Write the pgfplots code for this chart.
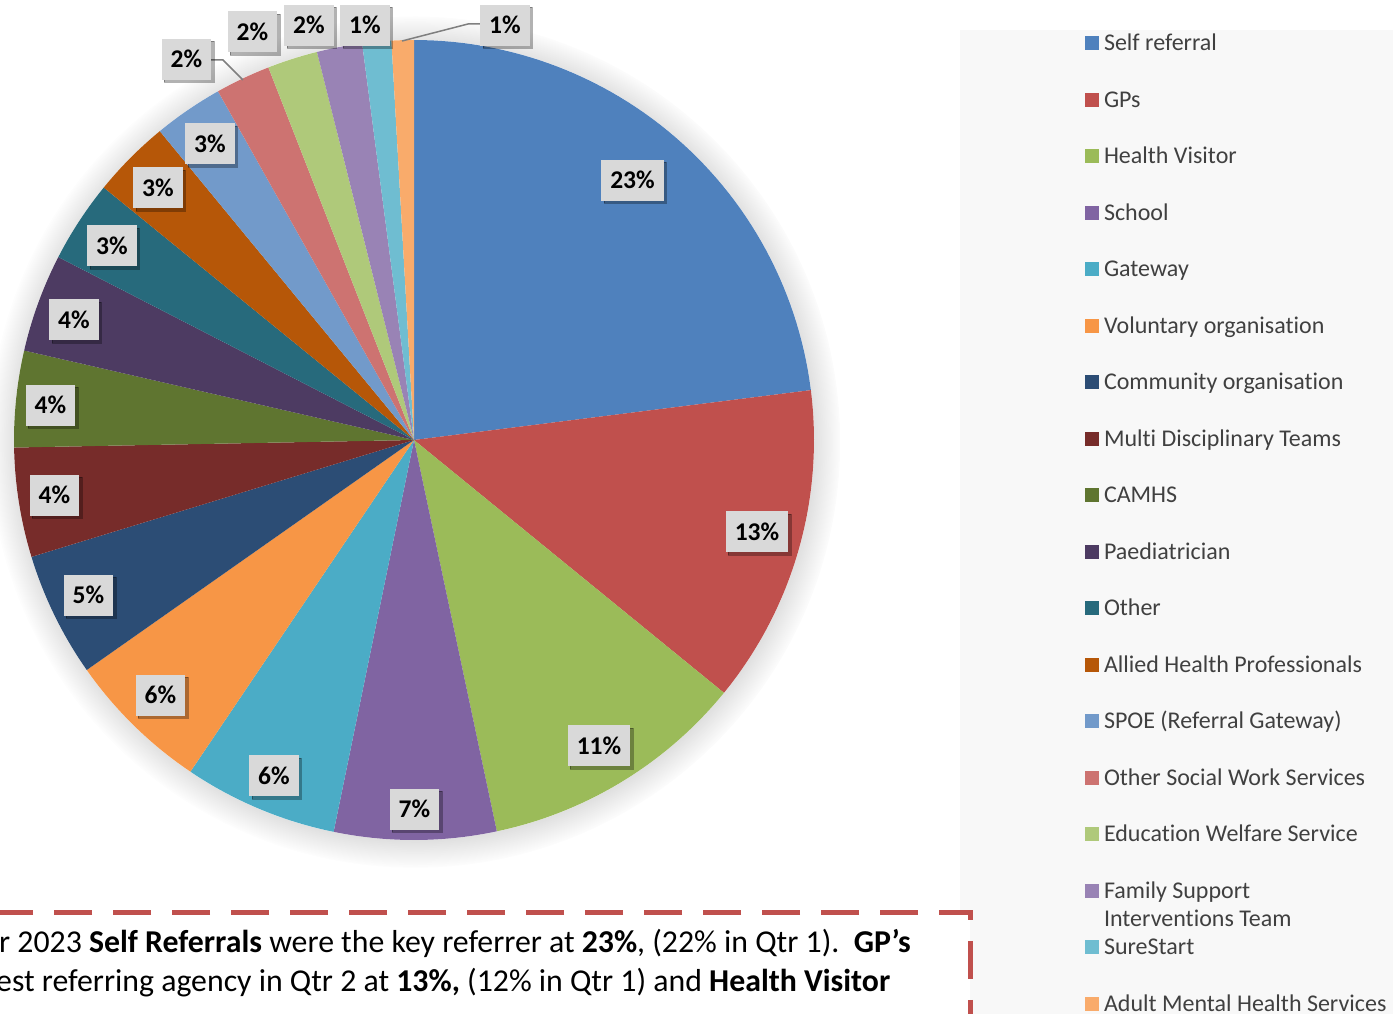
\documentclass[border=0pt]{standalone}
\usepackage{fontspec}
\setmainfont[Ligatures=NoCommon]{Carlito}
\usepackage{pgfplots}
\pgfplotsset{compat=1.18}
\usepackage{pgfplotstable}
\usetikzlibrary{shadows,fadings}

\definecolor{c0}{HTML}{4F81BD}
\definecolor{c1}{HTML}{C0504D}
\definecolor{c2}{HTML}{9BBB59}
\definecolor{c3}{HTML}{8064A2}
\definecolor{c4}{HTML}{4BACC6}
\definecolor{c5}{HTML}{F79646}
\definecolor{c6}{HTML}{2C4D75}
\definecolor{c7}{HTML}{772C2A}
\definecolor{c8}{HTML}{5F7530}
\definecolor{c9}{HTML}{4D3B62}
\definecolor{c10}{HTML}{276A7C}
\definecolor{c11}{HTML}{B65708}
\definecolor{c12}{HTML}{729ACA}
\definecolor{c13}{HTML}{CD7371}
\definecolor{c14}{HTML}{AFC97A}
\definecolor{c15}{HTML}{9983B5}
\definecolor{c16}{HTML}{6FBDD1}
\definecolor{c17}{HTML}{F9AB6B}
\definecolor{labelgray}{HTML}{D9D9D9}
\definecolor{legtext}{HTML}{404040}
\definecolor{leader}{HTML}{7F7F7F}
\definecolor{boxred}{HTML}{C0504D}
\definecolor{legbg}{HTML}{F8F8F8}

% share of referrals (percent), in pie order
\pgfplotstableread{
pct
23.01
12.88
10.79
6.54
6.22
5.81
5.03
4.42
3.89
3.97
3.31
3.17
2.81
2.22
2.03
1.83
1.17
0.90
}\slicedata

% data label positions and texts
\pgfplotstableread{
x y lab
0.54625 0.64875 23
0.8575 -0.23 13
0.4625 -0.765 11
0.00125 -0.92375 7
-0.35 -0.84 6
-0.63375 -0.63875 6
-0.81375 -0.38875 5
-0.89875 -0.13875 4
-0.90875 0.08625 4
-0.85 0.30 4
-0.755 0.485 3
-0.64 0.63 3
-0.51 0.74 3
-0.56875 0.95125 2
-0.40375 1.02 2
-0.2625 1.03625 2
-0.1225 1.03625 1
0.2275 1.03625 1
}\labeldata

\begin{document}
\begin{tikzpicture}
\useasboundingbox (0,0) rectangle (1393bp,1014bp);
\clip (0,0) rectangle (1393bp,1014bp);
\fill[legbg] (960bp,0) rectangle (1393bp,984bp);
\fill[white, circular drop shadow={shadow scale=1.065, shadow xshift=1bp, shadow yshift=-1.5bp, opacity=0.45, fill=black!40, path fading={circle with fuzzy edge 10 percent}}] (414bp,574bp) circle (400bp);
\begin{axis}[
  at={(414bp,574bp)}, anchor=center,
  width=800bp, height=800bp, scale only axis,
  xmin=-1, xmax=1, ymin=-1, ymax=1,
  hide axis, clip=false,
  legend cell align=left,
  legend image code/.code={\fill[#1] (0bp,-7bp) rectangle (14bp,7bp);},
  legend style={at={(1.33875,1.009375)}, anchor=north west, draw=none, fill=none,
    inner sep=0pt, outer sep=0pt, row sep=35.5bp, column sep=5bp,
    font=\fontsize{24bp}{28bp}\selectfont, text=legtext,
    nodes={inner sep=0pt, text height=18bp, text depth=3bp}},
  legend entries={Self referral, GPs, Health Visitor, School, Gateway, Voluntary organisation, Community organisation, Multi Disciplinary Teams, CAMHS, Paediatrician, Other, Allied Health Professionals, SPOE (Referral Gateway), Other Social Work Services, Education Welfare Service, {\smash{\parbox[t]{8cm}{\raggedright Family Support\\Interventions Team}}}, SureStart, Adult Mental Health Services},
]
\def\cum{0}
\pgfplotsforeachungrouped \k in {0,...,17}{%
  \pgfplotstablegetelem{\k}{pct}\of\slicedata
  \let\p=\pgfplotsretval
  \pgfmathsetmacro\a{90-3.6*\cum}%
  \pgfmathsetmacro\b{90-3.6*(\cum+\p)}%
  \pgfmathsetmacro\newcum{\cum+\p}%
  \global\let\cum=\newcum
  \edef\temp{\noexpand\addplot[fill=c\k, draw=none, domain=\b:\a, samples=60] ({cos(x)},{sin(x)}) -- (axis cs:0,0) -- cycle;}%
  \temp
}
\addplot[forget plot, color=leader, line width=1.5bp] coordinates {(-0.5075,0.95) (-0.4775,0.95) (-0.4275,0.9)};
\addplot[forget plot, color=leader, line width=1.5bp] coordinates {(0.165,1.04) (0.135,1.04) (-0.03,0.9975)};
\addplot[forget plot, only marks, mark=none, point meta=explicit symbolic,
  nodes near coords={\pgfplotspointmeta\%},
  every node near coord/.append style={anchor=center, fill=labelgray, text=black,
    font=\bfseries\fontsize{25.5bp}{30bp}\selectfont, inner xsep=9bp, inner ysep=0pt,
    minimum height=41bp, text height=16.5bp, text depth=0bp,
    drop shadow={shadow xshift=2.5bp, shadow yshift=-2.5bp, opacity=0.3, fill=black}}]
  table[x=x, y=y, meta=lab] {\labeldata};
\end{axis}
\fill[white] (-10bp,-10bp) rectangle (970bp,101bp);
\draw[boxred, line width=5bp, dash pattern=on 38bp off 21bp] (970bp,94bp) -- (970bp,101bp) -- (-20bp,101bp);
\draw[boxred, line width=5bp, dash pattern=on 38bp off 21bp, dash phase=38bp] (970bp,94bp) -- (970bp,-20bp);
\node[anchor=base west, inner sep=0pt, font=\fontsize{31.8bp}{38bp}\selectfont] at (-1bp,61bp) {r 2023 \textbf{Self Referrals} were the key referrer at \textbf{23\%}, (22\% in Qtr 1).\ \ \textbf{GP’s}};
\node[anchor=base west, inner sep=0pt, font=\fontsize{31.8bp}{38bp}\selectfont] at (-4bp,23bp) {est referring agency in Qtr 2 at \textbf{13\%,} (12\% in Qtr 1) and \textbf{Health Visitor}};
\end{tikzpicture}
\end{document}
